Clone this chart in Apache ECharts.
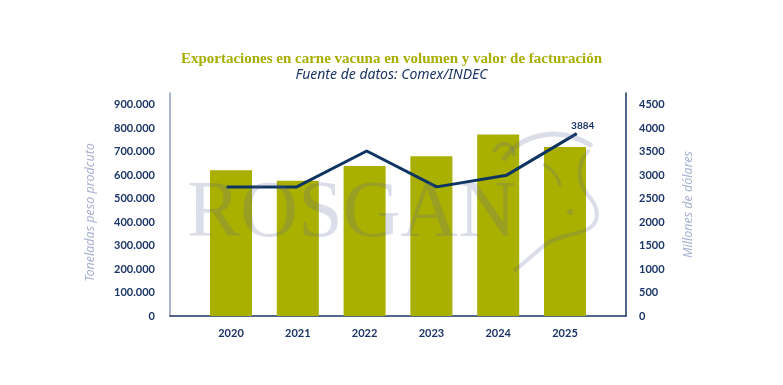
<!DOCTYPE html>
<html>
<head>
<meta charset="utf-8">
<script src="https://cdn.jsdelivr.net/npm/echarts@6/dist/echarts.min.js"></script>
<style>html,body{margin:0;padding:0;background:#fff;}#c{width:783px;height:385px;}</style>
</head>
<body>
<div id="c"></div>
<script>
const years = ['2020', '2021', '2022', '2023', '2024', '2025'];
const volumeTons = [621000, 576000, 639000, 681000, 773000, 720000];
const valueMillionUsd = [2750, 2750, 3514, 2750, 3000, 3884];
const leftTickLabels = ['0', '100.000', '200.000', '300.000', '400.000', '500.000', '600.000', '700.000', '800.000', '900.000'];
const rightTickLabels = ['0', '500', '1000', '1500', '2000', '2500', '3000', '3500', '4000', '4500'];

const navy = '#1b3566';
const olive = '#a9b000';
const labelFont = 'Lato';
const wm = 'rgba(90,100,155,0.22)';

// decorative watermark strokes (logo outline), [x1,y1,cpx1,cpy1,cpx2,cpy2,x2,y2,width]
const logoStrokes = [
  [503, 160, 518, 138, 555, 122, 592, 146, 5],
  [589, 150, 575, 165, 577, 185, 592, 200, 4],
  [592, 200, 600, 212, 598, 225, 586, 230, 4],
  [586, 230, 571, 236, 556, 236, 545, 245, 4],
  [545, 245, 535, 253, 525, 262, 514, 271, 4],
  [543, 164, 553, 170, 559, 177, 560, 186, 3],
  [494, 152, 499, 140, 513, 141, 514, 156, 4]
];

const chart = echarts.init(document.getElementById('c'), null, { renderer: 'canvas' });
const gTop = 93, gBottom = 69;
const last = valueMillionUsd.length - 1;

const graphics = [
  { type: 'text', z: 100, silent: true,
    style: { x: 187, y: 215, text: 'ROSGAN', font: '80px "Liberation Serif"', fill: wm, verticalAlign: 'middle', align: 'left' } },
  { type: 'circle', z: 100, silent: true, shape: { cx: 570, cy: 212, r: 3 }, style: { fill: wm } }
];
logoStrokes.forEach(function (s) {
  graphics.push({ type: 'bezierCurve', z: 100, silent: true,
    shape: { x1: s[0], y1: s[1], cpx1: s[2], cpy1: s[3], cpx2: s[4], cpy2: s[5], x2: s[6], y2: s[7] },
    style: { fill: null, stroke: wm, lineWidth: s[8], lineCap: 'butt' } });
});

chart.setOption({
  animation: false,
  backgroundColor: '#ffffff',
  title: [{
    text: 'Exportaciones en carne vacuna en volumen y valor de facturación',
    left: 'center', top: 47,
    textStyle: { fontFamily: 'Liberation Serif', fontWeight: 'bold', fontSize: 15, color: '#a7ae00' }
  }, {
    text: 'Fuente de datos: Comex/INDEC',
    left: 'center', top: 63,
    textStyle: { fontFamily: 'Noto Sans', fontStyle: 'italic', fontWeight: 'normal', fontSize: 14, color: navy }
  }],
  grid: [
    { left: 170, right: 157, top: gTop, bottom: gBottom },
    { left: 197.6, right: 184.6, top: gTop, bottom: gBottom },
    { left: 226.7, right: 206.3, top: gTop, bottom: gBottom }
  ],
  xAxis: [
    { gridIndex: 0, type: 'value', min: 0, max: 1,
      axisLine: { show: true, lineStyle: { color: navy, width: 1.5 } },
      axisTick: { show: false }, axisLabel: { show: false }, splitLine: { show: false } },
    { gridIndex: 1, type: 'category', data: years,
      axisLine: { show: false }, axisTick: { show: false },
      axisLabel: { margin: 12, fontFamily: labelFont, fontWeight: 'bold', fontSize: 11, color: navy } },
    { gridIndex: 2, type: 'category', data: years, boundaryGap: false, show: false }
  ],
  yAxis: [
    { gridIndex: 0, type: 'value', position: 'left', min: 0, max: 950000, interval: 100000,
      name: 'Toneladas peso prodcuto', nameLocation: 'middle', nameGap: 73,
      nameTextStyle: { fontFamily: 'Noto Sans', fontStyle: 'italic', fontSize: 12.5, color: '#a9b2d2', padding: [0, 16, 0, 0] },
      axisLine: { show: true, lineStyle: { color: '#8b9cb8', width: 1.5 } },
      axisTick: { show: false }, splitLine: { show: false },
      axisLabel: { margin: 15, fontFamily: labelFont, fontWeight: 'bold', fontSize: 11, color: navy,
        formatter: function (v) { const i = Math.round(v / 100000); return (v % 100000 === 0 && i < leftTickLabels.length) ? leftTickLabels[i] : ''; } } },
    { gridIndex: 0, type: 'value', position: 'right', min: 0, max: 4750, interval: 500,
      name: 'Millones de dólares', nameLocation: 'middle', nameGap: 56, nameRotate: 90,
      nameTextStyle: { fontFamily: 'Noto Sans', fontStyle: 'italic', fontSize: 12.5, color: '#a9b2d2' },
      axisLine: { show: true, lineStyle: { color: navy, width: 1.5 } },
      axisTick: { show: false }, splitLine: { show: false },
      axisLabel: { margin: 13, fontFamily: labelFont, fontWeight: 'bold', fontSize: 11, color: navy,
        formatter: function (v) { const i = Math.round(v / 500); return (v % 500 === 0 && i < rightTickLabels.length) ? rightTickLabels[i] : ''; } } },
    { gridIndex: 1, type: 'value', min: 0, max: 950000, show: false },
    { gridIndex: 2, type: 'value', min: 0, max: 4750, show: false }
  ],
  series: [
    { type: 'bar', xAxisIndex: 1, yAxisIndex: 2, data: volumeTons, barWidth: 42,
      itemStyle: { color: olive }, z: 2 },
    { type: 'line', xAxisIndex: 2, yAxisIndex: 3, data: valueMillionUsd,
      symbol: 'circle', symbolSize: 1, showSymbol: true, itemStyle: { color: '#0e3462' },
      lineStyle: { color: '#0e3462', width: 3 }, z: 3,
      label: { show: true, position: 'top', distance: 2, offset: [6, 0], fontFamily: labelFont, fontWeight: 'bold', fontSize: 10, color: navy,
        formatter: function (p) { return p.dataIndex === last ? String(p.value) : ''; } } }
  ],
  graphic: graphics
});
</script>
</body>
</html>
